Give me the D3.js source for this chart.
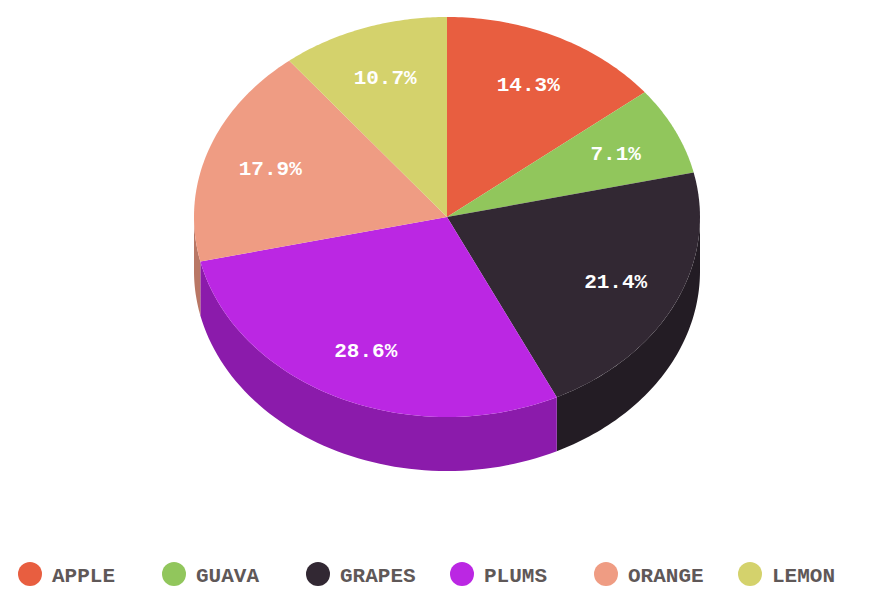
<!DOCTYPE html>
<html><head><meta charset="utf-8">
<script src="https://cdn.jsdelivr.net/npm/d3@7"></script>
<style>body{margin:0;background:#fff}</style>
</head><body><svg id="c" width="893" height="599"></svg>
<script>
const fruits = ["APPLE", "GUAVA", "GRAPES", "PLUMS", "ORANGE", "LEMON"];
const values = [4, 2, 6, 8, 5, 3];
const topColors = ["#e85e40", "#91c65c", "#322833", "#bb27e3", "#ef9c83", "#d4d26c"];
const sideColors = ["#b0472f", "#6f9846", "#231c24", "#8b1bab", "#b97765", "#a3a153"];

const cx = 447, cy = 217, rx = 253, ry = 200, depth = 54;
const svg = d3.select("#c");
const total = d3.sum(values);
const arcs = d3.pie().sort(null)(values);

const pt = (a, r = 1) => [cx + rx * r * Math.sin(a), cy - ry * r * Math.cos(a)];

function topPath(a0, a1) {
  const n = 60;
  let d = `M${cx},${cy}`;
  for (let i = 0; i <= n; i++) {
    const p = pt(a0 + (a1 - a0) * i / n);
    d += `L${p[0]},${p[1]}`;
  }
  return d + "Z";
}
function sidePath(a0, a1) {
  const lo = Math.max(a0, Math.PI / 2), hi = Math.min(a1, 3 * Math.PI / 2);
  if (hi <= lo) return null;
  const n = 60, up = [], down = [];
  for (let i = 0; i <= n; i++) {
    const p = pt(lo + (hi - lo) * i / n);
    up.push(p);
    down.push([p[0], p[1] + depth]);
  }
  return "M" + up.concat(down.reverse()).map(p => p.join(",")).join("L") + "Z";
}

const g = svg.append("g");
arcs.forEach((a, i) => {
  const d = sidePath(a.startAngle, a.endAngle);
  if (d) g.append("path").attr("d", d).attr("fill", sideColors[i]);
});
arcs.forEach((a, i) => {
  g.append("path").attr("d", topPath(a.startAngle, a.endAngle)).attr("fill", topColors[i]);
});
arcs.forEach((a, i) => {
  const p = pt((a.startAngle + a.endAngle) / 2, 0.74);
  g.append("text").attr("x", p[0]).attr("y", p[1] + 7)
    .attr("text-anchor", "middle")
    .attr("font-family", "Liberation Mono, monospace").attr("font-weight", "bold")
    .attr("font-size", 21).attr("fill", "#fff")
    .text((values[i] / total * 100).toFixed(1) + "%");
});

const x = d3.scalePoint().domain(fruits).range([30, 750]);
const leg = svg.append("g").selectAll("g").data(fruits).join("g")
  .attr("transform", d => `translate(${x(d)},574)`);
leg.append("circle").attr("r", 12).attr("fill", (d, i) => topColors[i]);
leg.append("text").attr("x", 22).attr("y", 8)
  .attr("font-family", "Liberation Mono, monospace").attr("font-weight", "bold")
  .attr("font-size", 21).attr("fill", "#5f5858").text(d => d);
</script></body></html>
